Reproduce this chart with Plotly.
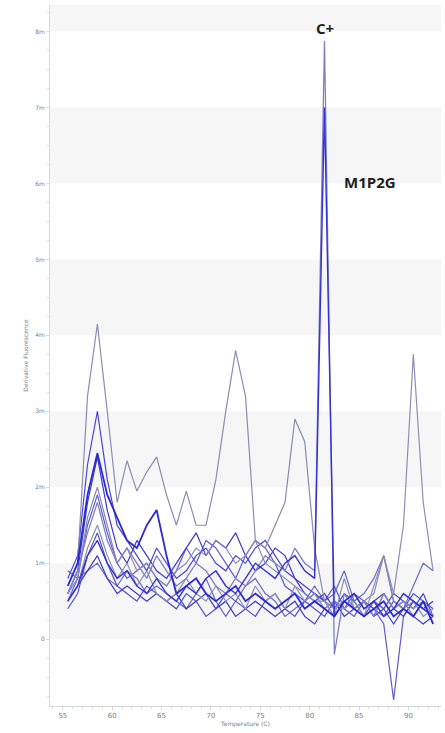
import plotly.graph_objects as go

temps = [55.5 + i for i in range(38)]

s_gray58 = [0.7, 1.0, 3.2, 4.15, 3.0, 1.8, 2.35, 1.95, 2.2, 2.4, 1.9, 1.5, 1.95, 1.5, 1.5, 2.1, 3.0, 3.8, 3.2, 1.3, 1.0, 0.9, 0.8, 0.7, 0.6, 0.5, 0.5, 0.4, 0.5, 0.4, 0.5, 0.3, 0.6, 0.4, 0.5, 0.4, 0.5, 0.3]
s_gray79 = [0.6, 0.8, 1.6, 2.0, 1.5, 1.0, 1.2, 0.9, 1.0, 0.8, 0.7, 0.9, 1.0, 1.2, 1.1, 1.3, 1.2, 1.0, 1.1, 1.3, 1.2, 1.5, 1.8, 2.9, 2.6, 1.2, 0.5, 0.3, 0.8, 0.4, 0.5, 0.6, 1.1, 0.5, 0.4, 0.5, 0.3, 0.4]
s_gray90 = [0.5, 0.7, 1.2, 1.5, 1.1, 0.8, 1.0, 0.7, 0.9, 0.6, 0.5, 0.6, 0.8, 0.6, 0.5, 0.7, 0.5, 0.6, 0.4, 0.7, 0.5, 0.6, 0.4, 0.7, 0.5, 0.6, 0.4, 0.5, 0.4, 0.5, 0.3, 0.7, 1.1, 0.6, 1.5, 3.75, 1.8, 0.9]
s_cpos = [0.6, 0.9, 1.4, 1.8, 1.3, 1.0, 1.2, 1.0, 0.8, 1.1, 0.9, 0.7, 0.8, 1.0, 0.9, 0.7, 0.6, 0.8, 0.7, 0.9, 1.1, 1.0, 0.9, 1.2, 1.0, 0.9, 7.88, -0.2, 0.6, 0.4, 0.5, 0.3, 0.6, 0.4, 0.5, 0.3, 0.5, 0.2]
s_m1p2g = [0.5, 0.7, 1.1, 1.3, 1.0, 0.8, 0.9, 0.7, 0.6, 0.8, 0.6, 0.5, 0.7, 0.6, 0.8, 0.9, 0.7, 0.6, 0.8, 1.0, 0.9, 0.8, 1.0, 1.1, 0.9, 0.8, 7.0, 0.3, 0.5, 0.6, 0.4, 0.5, 0.3, 0.4, 0.6, 0.5, 0.4, 0.3]
s_b1 = [0.8, 1.1, 2.3, 3.0, 2.1, 1.5, 1.3, 1.1, 0.9, 1.2, 1.0, 0.8, 0.9, 1.1, 1.2, 1.0, 0.9, 1.1, 1.0, 1.2, 1.3, 1.1, 0.9, 0.8, 0.7, 0.6, 0.5, 0.4, 0.6, 0.5, 0.3, 0.5, 0.4, 0.6, 0.5, 0.4, 0.6, 0.3]
s_b2 = [0.7, 1.0, 1.9, 2.45, 1.9, 1.6, 1.3, 1.2, 1.5, 1.7, 1.1, 0.6, 0.7, 0.8, 0.6, 0.5, 0.6, 0.7, 0.5, 0.6, 0.5, 0.4, 0.5, 0.6, 0.4, 0.5, 0.4, 0.3, 0.5, 0.4, 0.3, 0.4, 0.5, 0.3, 0.4, 0.3, 0.5, 0.2]
s_b3 = [0.6, 0.9, 1.8, 2.4, 1.7, 1.2, 1.0, 1.3, 1.1, 0.9, 0.8, 1.0, 1.2, 1.4, 1.1, 1.3, 1.2, 1.4, 1.1, 0.9, 1.0, 1.2, 1.1, 0.8, 0.6, 0.5, 0.6, 0.4, 0.5, 0.6, 0.4, 0.5, 0.6, 0.4, 0.3, 0.5, 0.4, 0.5]
s_b4 = [0.5, 0.8, 1.5, 1.9, 1.4, 1.0, 0.8, 0.9, 1.0, 0.8, 0.7, 0.9, 1.2, 1.0, 1.3, 1.2, 1.0, 0.8, 1.1, 1.3, 1.2, 1.0, 0.7, 0.6, 0.5, 0.6, 0.5, 0.7, 0.4, 0.3, 0.5, 0.4, 0.2, -0.8, 0.3, 0.5, 0.4, 0.3]
s_b5 = [0.4, 0.6, 1.1, 1.4, 1.0, 0.7, 0.6, 0.5, 0.7, 0.6, 0.5, 0.4, 0.6, 0.5, 0.3, 0.4, 0.6, 0.5, 0.4, 0.3, 0.5, 0.6, 0.4, 0.3, 0.5, 0.4, 0.3, 0.5, 0.4, 0.6, 0.5, 0.4, 0.3, 0.5, 0.4, 0.6, 0.5, 0.4]
s_b6 = [0.5, 0.7, 0.9, 1.1, 0.8, 0.6, 0.7, 0.6, 0.5, 0.6, 0.5, 0.6, 0.4, 0.5, 0.6, 0.4, 0.5, 0.3, 0.4, 0.5, 0.4, 0.3, 0.4, 0.5, 0.3, 0.2, 0.4, 0.5, 0.3, 0.4, 0.5, 0.3, 0.4, 0.2, 0.4, 0.3, 0.2, 0.3]
s_b7 = [0.9, 0.8, 0.9, 1.0, 0.8, 0.7, 0.9, 0.8, 0.6, 0.7, 0.6, 0.5, 0.4, 0.6, 0.8, 0.5, 0.3, 0.5, 0.7, 0.8, 0.6, 0.5, 0.3, 0.4, 0.5, 0.7, 0.5, 0.6, 0.9, 0.5, 0.6, 0.8, 1.1, 0.5, 0.4, 0.7, 1.0, 0.9]

series = [
    (s_b7, "#6a6ac8", 1.2),
    (s_b6, "#3a3ac8", 1.2),
    (s_b5, "#5050cc", 1.2),
    (s_b4, "#5c5cd0", 1.2),
    (s_b3, "#3838d2", 1.2),
    (s_b1, "#4646d6", 1.2),
    (s_gray90, "#8e8eb6", 1.2),
    (s_gray79, "#8a8ab4", 1.2),
    (s_gray58, "#8c8cb4", 1.2),
    (s_cpos, "#8080c4", 1.3),
    (s_m1p2g, "#3232d6", 1.4),
    (s_b2, "#2a2ad4", 1.8),
]

y_tickvals = [0, 1, 2, 3, 4, 5, 6, 7, 8]
y_ticktext = ["0", "1m", "2m", "3m", "4m", "5m", "6m", "7m", "8m"]
x_tickvals = [55, 60, 65, 70, 75, 80, 85, 90]

fig = go.Figure()
for ys, col, w in series:
    fig.add_trace(go.Scatter(x=temps, y=ys, mode="lines",
                             line=dict(color=col, width=w), showlegend=False))

bands = [(0, 1), (2, 3), (4, 5), (6, 7), (8, 9)]
for lo, hi in bands:
    fig.add_shape(type="rect", xref="paper", yref="y", x0=0, x1=1, y0=lo, y1=hi,
                  fillcolor="#f6f6f6", line=dict(width=0), layer="below")

fig.add_annotation(x=81.6, y=8.05, text="<b>C+</b>", showarrow=False,
                   font=dict(family="Open Sans, Liberation Sans", size=15, color="#1e1e1e"))
fig.add_annotation(x=86.1, y=6.02, text="<b>M1P2G</b>", showarrow=False,
                   font=dict(family="Open Sans, Liberation Sans", size=15, color="#1e1e1e"))

fig.update_layout(
    width=445, height=733,
    margin=dict(l=50, r=4, t=5, b=27),
    plot_bgcolor="white", paper_bgcolor="white",
    font=dict(family="DejaVu Sans", size=6, color="#808080"),
)
fig.update_xaxes(range=[53.7, 93.3], tickvals=x_tickvals, showgrid=False, zeroline=False,
                 showline=True, linecolor="#d8d8d8", linewidth=1,
                 ticks="outside", ticklen=3, tickcolor="#d8d8d8",
                 minor=dict(dtick=1, ticks="outside", ticklen=2, tickcolor="#e0e0e0"),
                 tickfont=dict(size=7, color="#808080"),
                 title=dict(text="Temperature (C)", font=dict(size=6, color="#808080"), standoff=2))
fig.update_yaxes(range=[-0.88, 8.35], tickvals=y_tickvals, ticktext=y_ticktext,
                 showgrid=False, zeroline=False,
                 showline=True, linecolor="#d8d8d8", linewidth=1,
                 ticks="outside", ticklen=3, tickcolor="#d8d8d8",
                 minor=dict(dtick=0.25, ticks="outside", ticklen=2, tickcolor="#e0e0e0"),
                 tickfont=dict(size=6, color="#808080"),
                 title=dict(text="Derivative Fluorescence", font=dict(size=6, color="#808080"), standoff=6))

fig.write_html("out.html")
